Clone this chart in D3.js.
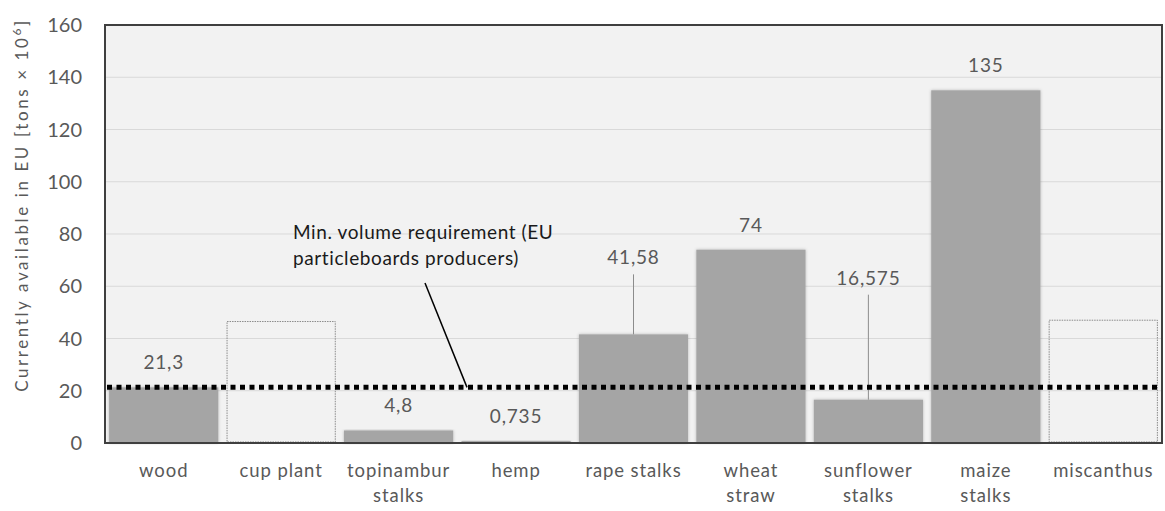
<!DOCTYPE html>
<html>
<head>
<meta charset="utf-8">
<script src="https://cdn.jsdelivr.net/npm/d3@7"></script>
<style>
  body { margin: 0; background: #fff; }
  svg text { font-family: Lato, "Open Sans", sans-serif; fill: #595959; }
</style>
</head>
<body>
<svg id="chart" width="1165" height="511"></svg>
<script>
// categories and values
var categories = ["wood", "cup plant", "topinambur stalks", "hemp", "rape stalks",
                  "wheat straw", "sunflower stalks", "maize stalks", "miscanthus"];
var values = [21.3, 46.5, 4.8, 0.735, 41.58, 74, 16.575, 135, 47];
// false = no figure known, drawn only as a dotted outline
var known = [true, false, true, true, true, true, true, true, false];
var valueLabels = ["21,3", "", "4,8", "0,735", "41,58", "74", "16,575", "135", ""];
var yTicks = [0, 20, 40, 60, 80, 100, 120, 140, 160];
var minRequirement = 21.3;
var annotation = ["Min. volume requirement (EU", "particleboards producers)"];
var yTitle = "Currently available in EU [tons \u00d7 10";

// labels that were pulled up with a leader line (extra lift in px)
var lifted = { "rape stalks": 52, "sunflower stalks": 97 };

var svg = d3.select("#chart");
var pLeft = 105, pRight = 1162, pTop = 25, pBottom = 443;

var x = d3.scaleBand().domain(categories).range([pLeft, pRight]).paddingInner(0.07).paddingOuter(0.035);
var y = d3.scaleLinear().domain([0, 160]).range([pBottom, pTop]);

var defs = svg.append("defs");
var f = defs.append("filter").attr("id", "shadow").attr("x", "-10%").attr("y", "-10%").attr("width", "120%").attr("height", "120%");
f.append("feDropShadow").attr("dx", 0).attr("dy", 0).attr("stdDeviation", 1.5).attr("flood-color", "#000").attr("flood-opacity", 0.25);

// plot background
svg.append("rect").attr("x", pLeft).attr("y", pTop).attr("width", pRight - pLeft).attr("height", pBottom - pTop)
  .attr("fill", "#f2f2f2");

// gridlines
svg.append("g").selectAll("line").data(yTicks.slice(1)).join("line")
  .attr("x1", pLeft).attr("x2", pRight)
  .attr("y1", d => y(d)).attr("y2", d => y(d))
  .attr("stroke", "#d9d9d9").attr("stroke-width", 1);

// y tick labels
svg.append("g").selectAll("text").data(yTicks).join("text")
  .attr("x", 82).attr("y", d => y(d)).attr("dy", "0.36em")
  .attr("text-anchor", "end").attr("font-size", 20)
  .text(d => d);

// y title
var yt = svg.append("text")
  .attr("transform", "translate(28,205) rotate(-90)")
  .attr("text-anchor", "middle").attr("font-size", 17).attr("letter-spacing", 2.6);
yt.append("tspan").text(yTitle);
yt.append("tspan").attr("dy", -7).attr("font-size", 12).text("6");
yt.append("tspan").attr("dy", 7).text("]");

var rows = categories.map((c, i) => ({ cat: c, v: values[i], known: known[i], label: valueLabels[i] }));

// solid bars
svg.append("g").selectAll("rect").data(rows.filter(d => d.known)).join("rect")
  .attr("x", d => x(d.cat)).attr("width", x.bandwidth())
  .attr("y", d => y(d.v)).attr("height", d => y(0) - y(d.v))
  .attr("fill", "#a5a5a5").attr("filter", "url(#shadow)");

// dotted outline bars
svg.append("g").selectAll("rect").data(rows.filter(d => !d.known)).join("rect")
  .attr("x", d => x(d.cat) + 0.5).attr("width", x.bandwidth() - 1)
  .attr("y", d => y(d.v)).attr("height", d => y(0) - y(d.v) - 1)
  .attr("fill", "none").attr("stroke", "#8a8a8a").attr("stroke-width", 1)
  .attr("stroke-dasharray", "1.5,1");

// value labels
var labelled = rows.filter(d => d.label);
svg.append("g").selectAll("text").data(labelled).join("text")
  .attr("x", d => x(d.cat) + x.bandwidth() / 2)
  .attr("y", d => y(d.v) - 18 - (lifted[d.cat] || 0))
  .attr("text-anchor", "middle").attr("font-size", 19).attr("letter-spacing", 0.8)
  .text(d => d.label);

// leader lines for the lifted labels
svg.append("g").selectAll("line").data(labelled.filter(d => lifted[d.cat])).join("line")
  .attr("x1", d => x(d.cat) + x.bandwidth() / 2).attr("x2", d => x(d.cat) + x.bandwidth() / 2)
  .attr("y1", d => y(d.v) - 18 - lifted[d.cat] + 10).attr("y2", d => y(d.v))
  .attr("stroke", "#8c8c8c").attr("stroke-width", 1);

// minimum requirement line
svg.append("line")
  .attr("x1", pLeft + 2).attr("x2", pRight - 2)
  .attr("y1", y(minRequirement)).attr("y2", y(minRequirement))
  .attr("stroke", "#000").attr("stroke-width", 5).attr("stroke-dasharray", "5,4.5");

// annotation + pointer
svg.append("g").selectAll("text").data(annotation).join("text")
  .attr("x", 293).attr("y", (d, i) => 239 + i * 26)
  .attr("font-size", 19).attr("letter-spacing", 0.6).style("fill", "#1a1a1a")
  .text(d => d);
svg.append("line")
  .attr("x1", 425).attr("y1", 283).attr("x2", 467).attr("y2", y(minRequirement))
  .attr("stroke", "#000").attr("stroke-width", 1.5);

// frame
svg.append("rect").attr("x", pLeft).attr("y", pTop).attr("width", pRight - pLeft).attr("height", pBottom - pTop)
  .attr("fill", "none").attr("stroke", "#3f3f3f").attr("stroke-width", 2);

// x labels, wrapped on two lines where needed
var wrapped = ["topinambur stalks", "wheat straw", "sunflower stalks", "maize stalks"];
var xl = svg.append("g").selectAll("text").data(categories).join("text")
  .attr("x", d => x(d) + x.bandwidth() / 2).attr("y", 477)
  .attr("text-anchor", "middle").attr("font-size", 18.5).attr("letter-spacing", 0.9);
xl.each(function (d) {
  var t = d3.select(this);
  var parts = wrapped.includes(d) ? d.split(" ") : [d];
  parts.forEach((p, i) => t.append("tspan").attr("x", x(d) + x.bandwidth() / 2).attr("dy", i ? 25 : 0).text(p));
});
</script>
</body>
</html>
